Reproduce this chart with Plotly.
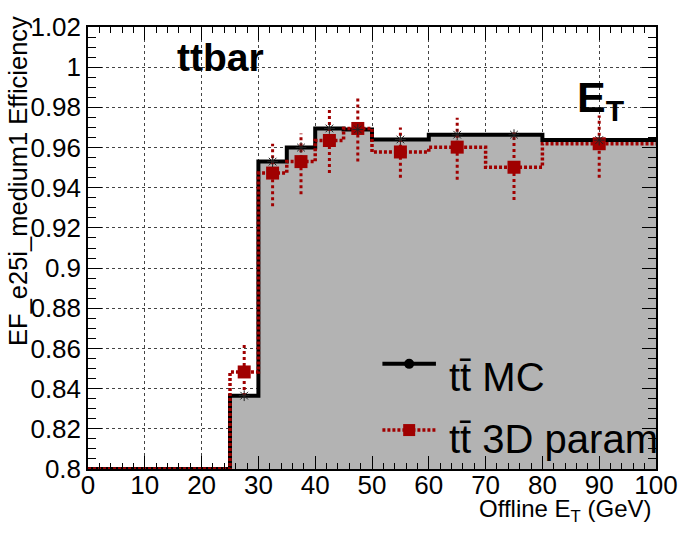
import plotly.graph_objects as go

# ---- data ----
bin_edges = [0, 25, 30, 35, 40, 45, 50, 60, 70, 80, 100]
mc_eff = [0.800, 0.8365, 0.953, 0.960, 0.9695, 0.969, 0.964, 0.9664, 0.9664, 0.9637]
param_eff = [0.800, 0.8483, 0.9473, 0.953, 0.9635, 0.9695, 0.9578, 0.9602, 0.9502, 0.9619]
param_err_up = [0.0, 0.0142, 0.0146, 0.014, 0.0155, 0.0155, 0.0122, 0.0146, 0.0173, 0.014]
param_err_dn = [0.0, 0.012, 0.0165, 0.0163, 0.0162, 0.0165, 0.0128, 0.0162, 0.0163, 0.0169]
x_ticks = [0, 10, 20, 30, 40, 50, 60, 70, 80, 90, 100]

RED = "#a00000"
FONT = "Liberation Sans, Arial, sans-serif"

centers = [(bin_edges[i] + bin_edges[i + 1]) / 2 for i in range(len(bin_edges) - 1)]

fig = go.Figure()

# MC histogram (gray filled step)
fig.add_trace(go.Scatter(
    x=bin_edges, y=mc_eff + [mc_eff[-1]], mode="lines",
    line=dict(shape="hv", color="black", width=4),
    fill="tozeroy", fillcolor="#b3b3b3", showlegend=False, hoverinfo="skip"))

# 3D param step line
fig.add_trace(go.Scatter(
    x=bin_edges, y=param_eff + [param_eff[-1]], mode="lines",
    line=dict(shape="hv", color=RED, width=3.5, dash="3px,2px"),
    showlegend=False, hoverinfo="skip"))

# 3D param dotted error bars
ex, ey = [], []
for c, v, up, dn in zip(centers[1:], param_eff[1:], param_err_up[1:], param_err_dn[1:]):
    ex += [c, c, None]
    ey += [v - dn, v + up, None]
fig.add_trace(go.Scatter(
    x=ex, y=ey, mode="lines", line=dict(color=RED, width=3, dash="3px,3px"),
    showlegend=False, hoverinfo="skip"))

# 3D param markers
fig.add_trace(go.Scatter(
    x=centers[1:], y=param_eff[1:], mode="markers",
    marker=dict(symbol="square", size=13, color=RED),
    showlegend=False))

# MC markers
fig.add_trace(go.Scatter(
    x=centers[1:], y=mc_eff[1:], mode="markers",
    marker=dict(symbol="asterisk-open", size=9, color="#222", line=dict(color="#222", width=1)),
    showlegend=False))

axis_common = dict(
    showline=True, linecolor="black", linewidth=1.5, mirror="allticks",
    ticks="inside", tickcolor="black", tickwidth=1.3,
    showgrid=True, gridcolor="#444", griddash="dot", gridwidth=1,
    zeroline=False, tickfont=dict(family=FONT, size=26, color="black"),
)

fig.update_xaxes(range=[0, 100], tickvals=x_ticks, ticklen=13, ticklabelstandoff=-8,
                 minor=dict(dtick=2, ticks="inside", ticklen=6, tickcolor="black", showgrid=False),
                 **axis_common)
fig.update_yaxes(range=[0.8, 1.0200001], dtick=0.02, tick0=0.8, ticklen=14,
                 minor=dict(dtick=0.005, ticks="inside", ticklen=8, tickcolor="black", showgrid=False),
                 **axis_common)

# plot area geometry for paper conversion
L, R, T, B = 88, 661, 15, 469
W, H = R - L, B - T
def px(xp): return (xp - L) / W
def py(yp): return (B - yp) / H

ann = []
ann.append(dict(text="<b>ttbar</b>", x=px(222), y=py(46), xref="paper", yref="paper",
                showarrow=False, font=dict(family=FONT, size=39, color="black"),
                xanchor="center", yanchor="middle"))
ann.append(dict(text="<b>E</b><sub><b>T</b></sub>", x=px(579), y=py(90), xref="paper", yref="paper",
                showarrow=False, font=dict(family=FONT, size=43, color="black"),
                xanchor="left", yanchor="middle"))
ann.append(dict(text="Offline E<sub>T</sub> (GeV)", x=px(659), y=py(512), xref="paper", yref="paper",
                showarrow=False, font=dict(family=FONT, size=24, color="black"),
                xanchor="right", yanchor="middle"))
ann.append(dict(text="EF_e25i_medium1 Efficiency", x=px(18), y=py(2), xref="paper", yref="paper",
                showarrow=False, textangle=-90, font=dict(family=FONT, size=25.5, color="black"),
                xanchor="center", yanchor="top"))
ann.append(dict(text="tt\u0304 MC", x=px(450), y=py(375), xref="paper", yref="paper",
                showarrow=False, font=dict(family=FONT, size=40, color="black"),
                xanchor="left", yanchor="middle"))
ann.append(dict(text="tt\u0304 3D param", x=px(450), y=py(438), xref="paper", yref="paper",
                showarrow=False, font=dict(family=FONT, size=40, color="black"),
                xanchor="left", yanchor="middle"))

shapes = []
shapes.append(dict(type="line", xref="paper", yref="paper", x0=px(385), x1=px(439),
                   y0=py(361), y1=py(361), line=dict(color="black", width=4)))
shapes.append(dict(type="circle", xref="paper", yref="paper", xsizemode="pixel", ysizemode="pixel",
                   xanchor=px(412), yanchor=py(361), x0=-5, x1=5, y0=-5, y1=5,
                   fillcolor="black", line=dict(color="black", width=0)))
shapes.append(dict(type="line", xref="paper", yref="paper", x0=px(385), x1=px(439),
                   y0=py(429), y1=py(429), line=dict(color=RED, width=3.5, dash="3px,2px")))
shapes.append(dict(type="rect", xref="paper", yref="paper", xsizemode="pixel", ysizemode="pixel",
                   xanchor=px(412), yanchor=py(429), x0=-6, x1=6, y0=-6, y1=6,
                   fillcolor=RED, line=dict(color=RED, width=0)))

fig.update_layout(
    width=690, height=533, autosize=False,
    margin=dict(l=L, r=690 - R, t=T, b=533 - B, pad=0),
    paper_bgcolor="white", plot_bgcolor="white",
    showlegend=False, annotations=ann, shapes=shapes,
    font=dict(family=FONT, color="black"),
)

fig.write_html("out.html")
